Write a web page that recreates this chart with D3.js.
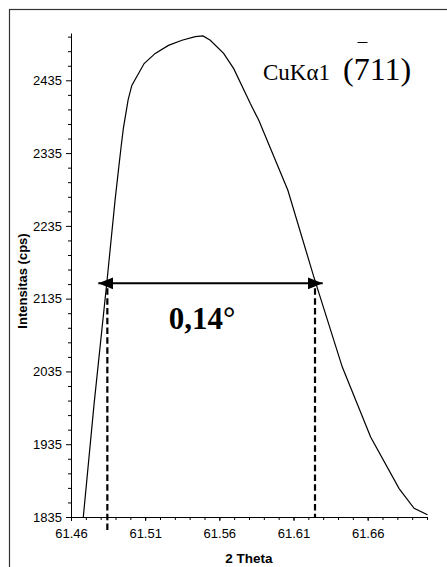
<!DOCTYPE html>
<html>
<head>
<meta charset="utf-8">
<script src="https://cdn.jsdelivr.net/npm/d3@7/dist/d3.min.js"></script>
<style>
  html, body { margin: 0; padding: 0; background: #fff; }
  svg { display: block; }
</style>
</head>
<body>
<svg id="chart" width="447" height="567"></svg>
<script>
// Diffraction profile of the CuKα1 (-711) reflection
const twoTheta = [61.4683, 61.4755, 61.4843, 61.4897, 61.4920, 61.4938, 61.4953, 61.4985,
  61.5010, 61.5093, 61.5168, 61.5257, 61.5348, 61.5438, 61.5490, 61.5539, 61.5629,
  61.5697, 61.5809, 61.5866, 61.6062, 61.6237, 61.6429, 61.6620, 61.6812, 61.6913, 61.7003];
const intensity = [1835, 1989, 2160, 2270, 2312, 2344, 2369, 2408,
  2428, 2458, 2472, 2483, 2490, 2495, 2496, 2490, 2472,
  2451, 2403, 2380, 2284, 2165, 2041, 1945, 1874, 1847, 1838];

// Axis ranges and tick values
const xDomain = [61.46, 61.70];
const yDomain = [1835, 2500];
const xMajorTicks = [61.46, 61.51, 61.56, 61.61, 61.66];
const yMajorTicks = [1835, 1935, 2035, 2135, 2235, 2335, 2435];
const xMinorStep = 0.01;
const yMinorStep = 20;

// FWHM markers: half-maximum level and the two crossing positions
const fwhmLevel = 2156;
const fwhmLeft = 61.4845;
const fwhmRight = 61.6245;
const fwhmLabel = "0,14°";
const arrowEnds = [61.4784, 61.6297];

const svg = d3.select("#chart");
const plotLeft = 71, plotRight = 427, plotTop = 33, plotBottom = 517;

const x = d3.scaleLinear().domain(xDomain).range([plotLeft, plotRight]);
const y = d3.scaleLinear().domain(yDomain).range([plotBottom, plotTop]);

// Outer frame (left and top edges visible)
svg.append("rect")
  .attr("x", 9.5).attr("y", 9.5).attr("width", 460).attr("height", 580)
  .attr("fill", "none").attr("stroke", "#333").attr("stroke-width", 1.2);

const fmt2 = d3.format(".2f");

// Minor ticks
const yMinor = d3.range(yDomain[0], yDomain[1], yMinorStep).filter(v => (v - yDomain[0]) % 100 !== 0);
const xMinor = d3.range(0, Math.round((xDomain[1] - xDomain[0]) / xMinorStep) + 1)
  .map(i => +(xDomain[0] + i * xMinorStep).toFixed(2));

const yAxisMinor = d3.axisLeft(y).tickValues(yMinor).tickSize(3).tickFormat("");
const xAxisMinor = d3.axisBottom(x).tickValues(xMinor).tickSize(3).tickFormat("");

svg.append("g").attr("transform", `translate(${plotLeft},0)`).call(yAxisMinor)
  .call(g => g.select(".domain").remove());
svg.append("g").attr("transform", `translate(0,${plotBottom})`).call(xAxisMinor)
  .call(g => g.select(".domain").remove());

const yAxis = d3.axisLeft(y).tickValues(yMajorTicks).tickSize(5).tickSizeOuter(0).tickPadding(4)
  .tickFormat(d3.format("d"));
const xAxis = d3.axisBottom(x).tickValues(xMajorTicks).tickSize(4).tickSizeOuter(0).tickPadding(8)
  .tickFormat(fmt2);

svg.append("g").attr("transform", `translate(${plotLeft},0)`).call(yAxis);
svg.append("g").attr("transform", `translate(0,${plotBottom})`).call(xAxis);

svg.selectAll(".tick line, .domain").attr("stroke", "#000").attr("stroke-width", 1);
svg.selectAll(".tick text")
  .attr("font-family", "Liberation Sans, Arial, sans-serif")
  .attr("font-size", 13).attr("fill", "#000");

// Axis titles
svg.append("text")
  .attr("transform", `translate(27,${(plotTop + plotBottom) / 2 + 6}) rotate(-90)`)
  .attr("text-anchor", "middle")
  .attr("font-family", "Liberation Sans, Arial, sans-serif")
  .attr("font-weight", "bold").attr("font-size", 13)
  .text("Intensitas (cps)");

svg.append("text")
  .attr("x", (plotLeft + plotRight) / 2).attr("y", 563)
  .attr("text-anchor", "middle")
  .attr("font-family", "Liberation Sans, Arial, sans-serif")
  .attr("font-weight", "bold").attr("font-size", 13.5)
  .text("2 Theta");

// Dashed verticals at the half-maximum crossings
const dash = svg.append("g").attr("stroke", "#000").attr("stroke-width", 2.2)
  .attr("stroke-dasharray", "6.5,3.3");
dash.append("line").attr("x1", x(fwhmLeft)).attr("x2", x(fwhmLeft))
  .attr("y1", y(fwhmLevel) + 5).attr("y2", plotBottom + 15);
dash.append("line").attr("x1", x(fwhmRight)).attr("x2", x(fwhmRight))
  .attr("y1", y(fwhmLevel) + 5).attr("y2", plotBottom);

// Profile line
const line = d3.line().x((d, i) => x(twoTheta[i])).y(d => y(d));
svg.append("path").datum(intensity)
  .attr("d", line)
  .attr("fill", "none").attr("stroke", "#000").attr("stroke-width", 1.2);

// Double-headed arrow spanning the FWHM
const defs = svg.append("defs");
defs.append("marker").attr("id", "head")
  .attr("viewBox", "0 0 15 12").attr("refX", 15).attr("refY", 6)
  .attr("markerWidth", 15).attr("markerHeight", 12)
  .attr("markerUnits", "userSpaceOnUse").attr("orient", "auto-start-reverse")
  .append("path").attr("d", "M0,0 L15,6 L0,12 Z").attr("fill", "#000");

svg.append("line")
  .attr("x1", x(arrowEnds[0])).attr("x2", x(arrowEnds[1]))
  .attr("y1", y(fwhmLevel)).attr("y2", y(fwhmLevel))
  .attr("stroke", "#000").attr("stroke-width", 2)
  .attr("marker-start", "url(#head)").attr("marker-end", "url(#head)");

svg.append("text")
  .attr("x", (x(fwhmLeft) + x(fwhmRight)) / 2 - 9).attr("y", 329)
  .attr("text-anchor", "middle")
  .attr("font-family", "Liberation Serif, Times New Roman, serif")
  .attr("font-weight", "bold").attr("font-size", 31)
  .text(fwhmLabel);

// Reflection label
const lbl = svg.append("text").attr("y", 80)
  .attr("font-family", "Liberation Serif, Times New Roman, serif").attr("fill", "#000");
lbl.append("tspan").attr("x", 263).attr("font-size", 23).text("CuKα1");
lbl.append("tspan").attr("x", 343).attr("font-size", 32).text("(711)");
svg.append("line").attr("x1", 357.5).attr("x2", 367.5).attr("y1", 42.5).attr("y2", 42.5)
  .attr("stroke", "#000").attr("stroke-width", 1);
</script>
</body>
</html>
